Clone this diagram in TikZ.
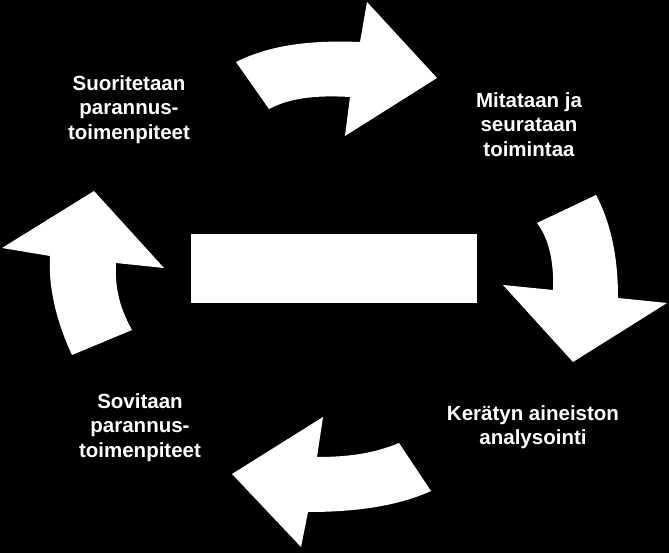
\documentclass[tikz,border=0pt]{standalone}
\usepackage{fontspec}
\setmainfont{Liberation Sans}
\begin{document}
\begin{tikzpicture}[x=1pt,y=-1pt,
  arrowshape/.style={fill=white,draw=none},
  label/.style={text=white,font=\fontsize{20.5}{24.5}\selectfont\bfseries,align=center,inner sep=0pt,anchor=north}]
\fill[black] (0,0) rectangle (669,553);
\useasboundingbox (0,0) rectangle (669,553);
% centre box
\node (centre) [fill=white,minimum width=286pt,minimum height=69pt,inner sep=0pt] at (334,268.5) {};
% top arrow
\fill[arrowshape] (236,62) .. controls (270,45) and (310,40) .. (360,42) -- (367,2) -- (437,78) -- (345,136) -- (350,97) .. controls (315,95) and (290,98) .. (269,109) -- cycle;
% right arrow
\fill[arrowshape] (537,223) -- (596,195) .. controls (612,225) and (618,260) .. (618,298) -- (667,303) -- (573,362) -- (503,285) -- (553,290) .. controls (554,265) and (550,240) .. (537,223) -- cycle;
% bottom arrow
\fill[arrowshape] (399,443) .. controls (375,453) and (350,457) .. (317,457) -- (323,417) -- (232,474) -- (301,547) -- (308,512) .. controls (360,512) and (400,505) .. (431,491) -- cycle;
% left arrow
\fill[arrowshape] (72,355) -- (132,330) .. controls (118,305) and (115,285) .. (116,263) -- (164,268) -- (94,191) -- (2,248) -- (50,256) .. controls (48,290) and (58,325) .. (72,355) -- cycle;
% labels
\node (tl) [label] at (129,75) {Suoritetaan\\parannus-\\toimenpiteet};
\node (tr) [label] at (529,92) {Mitataan ja\\seurataan\\toimintaa};
\node (bl) [label] at (140,393) {Sovitaan\\parannus-\\toimenpiteet};
\node (br) [label] at (533,405) {Kerätyn aineiston\\analysointi};
\end{tikzpicture}
\end{document}
